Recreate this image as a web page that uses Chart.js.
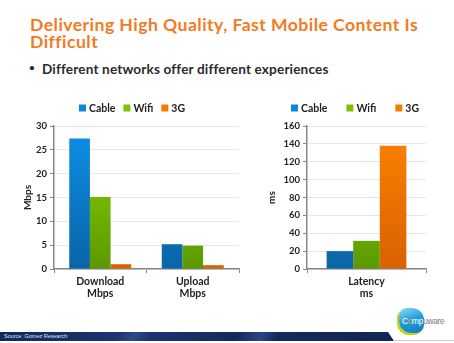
<!DOCTYPE html>
<html>
<head>
<meta charset="utf-8">
<script src="https://cdn.jsdelivr.net/npm/chart.js@4.4.1/dist/chart.umd.min.js"></script>
<style>
  html, body { margin: 0; padding: 0; background: #fff; }
  body { width: 454px; height: 343px; position: relative; overflow: hidden; font-family: Lato, "Open Sans", sans-serif; }
  #title { position: absolute; left: 30px; top: 17px; font-size: 17.6px; font-weight: 700; line-height: 16.8px; letter-spacing: 0.45px; color: #F47A1F; }
  #bullet { position: absolute; left: 42px; top: 61px; font-size: 13.6px; font-weight: 700; letter-spacing: 0.15px; color: #2b2b2b; }
  #bullet span { position: absolute; left: -13px; top: 0px; font-size: 10px; }
  .box { position: absolute; }
  #footer { position: absolute; left: 0; top: 332px; width: 394px; height: 9px;
    background: linear-gradient(115deg, #14275a 0%, #1b3470 30%, #2c4a8a 34%, #1b3470 38%, #15295e 60%, #2a4785 66%, #16295e 70%, #12244f 100%);
    clip-path: polygon(0 0, 388px 0, 394px 9px, 0 9px); }
  #footer div { position: absolute; left: 4px; top: 1px; font: 5.5px "Liberation Sans", sans-serif; color: #dfe6f5; }
  #rule { position: absolute; left: 395px; top: 340px; width: 59px; height: 1px; background: #ccc; }
  #logo { position: absolute; left: 399px; top: 308px; width: 25px; height: 25px; border-radius: 8px 12px 8px 12px;
    background: linear-gradient(160deg, #8fd8f7 0%, #1e9cdb 50%, #127abc 100%);
    box-shadow: -2px 2px 0 #c9d400; }
  #logoText { position: absolute; left: 402px; top: 316px; font: 8.4px "Liberation Sans", sans-serif; color: #7a7a7a; letter-spacing: -0.3px; }
  #logoText b { font-weight: 400; color: #fff; }
  #logoText i { font-style: normal; color: #f6a623; }
</style>
</head>
<body>
<div id="title">Delivering High Quality, Fast Mobile Content Is<br>Difficult</div>
<div id="bullet"><span>•</span>Different networks offer different experiences</div>

<div class="box" style="left:18px; top:96px; width:226px; height:208px;"><canvas id="speed"></canvas></div>
<div class="box" style="left:262px; top:96px; width:176px; height:208px;"><canvas id="latency"></canvas></div>

<div id="footer"><div>Source: Gomez Research</div></div>
<div id="rule"></div>
<div id="logo"></div>
<div id="logoText"><b>C<i>o</i>mp</b>uware</div>

<script>
// throughput, Mbps
const speedLabels = [['Download', 'Mbps'], ['Upload', 'Mbps']];
const speedCable = [27.4, 5.2];
const speedWifi = [15.1, 4.9];
const speed3G = [1.0, 0.8];
const speedTicks = [0, 5, 10, 15, 20, 25, 30];

// round trip, ms
const latencyLabels = [['Latency', 'ms']];
const latencyCable = [20];
const latencyWifi = [31.5];
const latency3G = [138];
const latencyTicks = [0, 20, 40, 60, 80, 100, 120, 140, 160];

const seriesNames = ['Cable', 'Wifi', '3G'];
const colorStops = [
  ['#0D8FE8', '#0A64A6'],
  ['#8AD600', '#5C9800'],
  ['#FF8200', '#D76200']
];
const solid = ['#0B86DA', '#7CC400', '#F57A00'];

const font = 'Lato, "Open Sans", sans-serif';

function fill(i) {
  return (ctx) => {
    const area = ctx.chart.chartArea;
    if (!area) return solid[i];
    const g = ctx.chart.ctx.createLinearGradient(0, area.top, 0, area.bottom);
    g.addColorStop(0, colorStops[i][0]);
    g.addColorStop(1, colorStops[i][1]);
    return g;
  };
}

// compact key row above the plot: square swatch, tight gap, label
const keyRow = {
  id: 'keyRow',
  afterDraw(chart, args, opts) {
    const ctx = chart.ctx;
    const box = 7, inner = 3;
    ctx.save();
    ctx.font = 'bold 10.5px ' + font;
    ctx.textBaseline = 'middle';
    const widths = seriesNames.map(n => box + inner + ctx.measureText(n).width);
    const total = widths.reduce((a, b) => a + b, 0) + opts.gap * (seriesNames.length - 1);
    let x = opts.cx - total / 2;
    seriesNames.forEach((n, i) => {
      ctx.fillStyle = solid[i];
      ctx.fillRect(x, opts.cy - box / 2, box, box);
      ctx.fillStyle = '#222';
      ctx.fillText(n, x + box + inner, opts.cy + 0.5);
      x += widths[i] + opts.gap;
    });
    ctx.restore();
  }
};

function makeChart(id, labels, series, ticks, unit, cfg) {
  new Chart(document.getElementById(id), {
    type: 'bar',
    plugins: [keyRow],
    data: {
      labels: labels,
      datasets: series.map((data, i) => ({
        label: seriesNames[i],
        data: data,
        backgroundColor: fill(i),
        borderWidth: 0,
        categoryPercentage: 0.67,
        barPercentage: 1.0
      }))
    },
    options: {
      responsive: true,
      maintainAspectRatio: false,
      animation: false,
      layout: { padding: { top: 30, right: cfg.padRight, left: 0, bottom: 0 } },
      plugins: {
        tooltip: { enabled: false },
        legend: { display: false },
        keyRow: { cx: cfg.keyX, cy: 12, gap: cfg.keyGap }
      },
      scales: {
        x: {
          grid: { display: true, drawOnChartArea: false, drawTicks: true, tickLength: 4, offset: true, color: '#888' },
          border: { color: '#888', width: 1.5 },
          ticks: { color: '#222', padding: 2, font: { family: font, size: 10.5, weight: 'bold' } },
          afterFit: (s) => { s.height = 35; }
        },
        y: {
          min: ticks[0],
          max: ticks[ticks.length - 1],
          afterBuildTicks: (s) => { s.ticks = ticks.map(v => ({ value: v })); },
          grid: { color: '#e6e6e6', tickLength: 4, tickColor: '#888' },
          border: { color: '#888', width: 1.5 },
          ticks: { color: '#222', padding: 3, font: { family: font, size: 9.5, weight: 'bold' } },
          title: { display: true, text: unit, color: '#222', font: { family: font, size: 10, weight: 'bold' }, padding: { top: 4, bottom: 0 } },
          afterFit: (s) => { s.width = cfg.yWidth; }
        }
      }
    }
  });
}

makeChart('speed', speedLabels, [speedCable, speedWifi, speed3G], speedTicks, 'Mbps',
  { yWidth: 36, padRight: 5, keyX: 114, keyGap: 8 });
makeChart('latency', latencyLabels, [latencyCable, latencyWifi, latency3G], latencyTicks, 'ms',
  { yWidth: 45, padRight: 12, keyX: 93, keyGap: 19 });
</script>
</body>
</html>
